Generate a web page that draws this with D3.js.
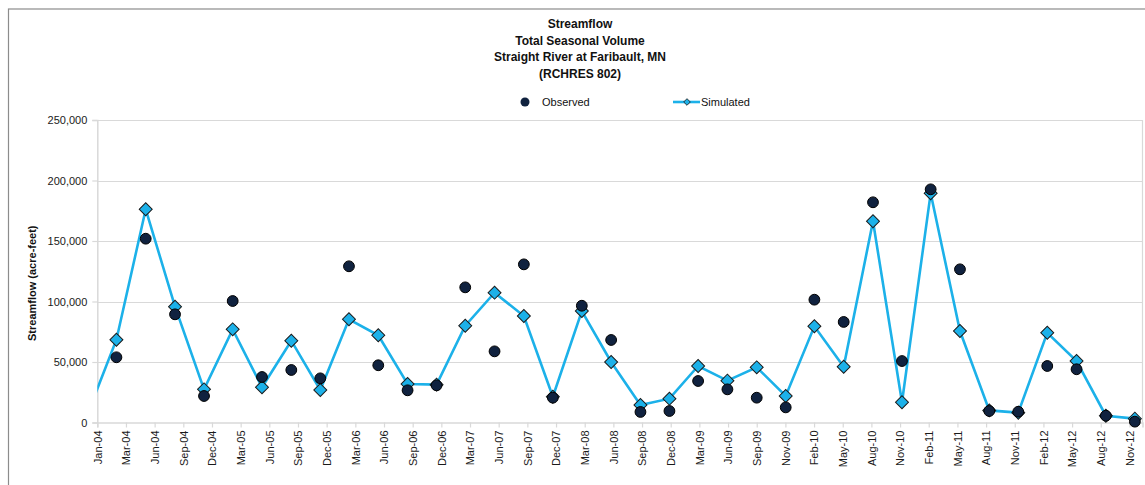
<!DOCTYPE html>
<html>
<head>
<meta charset="utf-8">
<script src="https://cdn.jsdelivr.net/npm/d3@7"></script>
<style>
  html, body { margin: 0; padding: 0; background: #fff; }
  svg { display: block; font-family: "Liberation Sans", Arial, sans-serif; }
</style>
</head>
<body>
<svg id="chart" width="1145" height="485"></svg>
<script>
// ---- Data ----
const titleLines = ["Streamflow", "Total Seasonal Volume", "Straight River at Faribault, MN", "(RCHRES 802)"];
const seasonDates = [
  "2003-12-01","2004-03-01","2004-06-01","2004-09-01","2004-12-01",
  "2005-03-01","2005-06-01","2005-09-01","2005-12-01",
  "2006-03-01","2006-06-01","2006-09-01","2006-12-01",
  "2007-03-01","2007-06-01","2007-09-01","2007-12-01",
  "2008-03-01","2008-06-01","2008-09-01","2008-12-01",
  "2009-03-01","2009-06-01","2009-09-01","2009-12-01",
  "2010-03-01","2010-06-01","2010-09-01","2010-12-01",
  "2011-03-01","2011-06-01","2011-09-01","2011-12-01",
  "2012-03-01","2012-06-01","2012-09-01","2012-12-01"
];
const simulated = [
  6800, 68400, 176200, 95700, 27400,
  77000, 29100, 67600, 26900,
  85300, 72100, 31800, 31300,
  80000, 107300, 88000, 21300,
  92100, 50000, 14500, 19700,
  46700, 34600, 45600, 21900,
  79500, 46100, 166300, 16700,
  189400, 75600, 10000, 8100,
  74200, 50800, 5600, 3200
];
const observed = [
  null, 53900, 151900, 89400, 21900,
  100400, 37600, 43400, 36500,
  129100, 47300, 26600, 30700,
  111700, 58800, 130700, 20500,
  96500, 68200, 8700, 9500,
  34300, 27400, 20500, 12500,
  101500, 83100, 182000, 50800,
  192700, 126600, 9500, 8900,
  46700, 44000, 5600, 700
];
const tickLabels = [
  "Jan-04","Mar-04","Jun-04","Sep-04","Dec-04","Mar-05","Jun-05","Sep-05","Dec-05",
  "Mar-06","Jun-06","Sep-06","Dec-06","Mar-07","Jun-07","Sep-07","Dec-07",
  "Mar-08","Jun-08","Sep-08","Dec-08","Mar-09","Jun-09","Sep-09","Nov-09",
  "Feb-10","May-10","Aug-10","Nov-10","Feb-11","May-11","Aug-11","Nov-11",
  "Feb-12","May-12","Aug-12","Nov-12"
];
const yTicks = [0, 50000, 100000, 150000, 200000, 250000];
const axisStart = "2004-01-01";
const axisEnd = "2012-12-25";
const tickStepDays = 90;

// ---- Layout ----
const svg = d3.select("#chart");
const pLeft = 97.3, pRight = 1142.5, pTop = 120, pBottom = 422.5;
const parse = d3.utcParse("%Y-%m-%d");
const start = parse(axisStart);

const x = d3.scaleUtc().domain([start, parse(axisEnd)]).range([pLeft, pRight]);
const y = d3.scaleLinear().domain([0, 250000]).range([pBottom, pTop]);

const tickDates = tickLabels.map((_, i) => d3.utcDay.offset(start, tickStepDays * i));

const rows = seasonDates.map((d, i) => ({ date: parse(d), sim: simulated[i], obs: observed[i] }));

// Outer chart border
svg.append("rect").attr("x", 8.5).attr("y", 9).attr("width", 1150).attr("height", 500)
  .attr("fill", "none").attr("stroke", "#8c8c8c").attr("stroke-width", 1.2);

// Gridlines
svg.append("g").selectAll("line").data(yTicks.filter(v => v > 0)).join("line")
  .attr("x1", pLeft).attr("x2", pRight)
  .attr("y1", d => Math.round(y(d)) + 0.5).attr("y2", d => Math.round(y(d)) + 0.5)
  .attr("stroke", "#d9d9d9").attr("stroke-width", 1.2);

// plot right border
svg.append("line").attr("x1", pRight).attr("x2", pRight).attr("y1", pTop).attr("y2", pBottom)
  .attr("stroke", "#d9d9d9").attr("stroke-width", 1.2);

// Y axis
const yAxis = svg.append("g").attr("transform", `translate(${pLeft},0)`)
  .call(d3.axisLeft(y).tickValues(yTicks).tickFormat(d3.format(",")).tickSizeOuter(0).tickSize(5).tickPadding(5));
yAxis.select(".domain").attr("stroke", "#d9d9d9").attr("stroke-width", 1.5);
yAxis.selectAll(".tick line").attr("stroke", "#d9d9d9").attr("stroke-width", 1.2);
yAxis.selectAll("text").attr("font-size", 11).attr("fill", "#1a1a1a")
  .attr("font-family", "'Liberation Sans', Arial, sans-serif");

// X axis
const xAxis = svg.append("g").attr("transform", `translate(0,${pBottom})`)
  .call(d3.axisBottom(x).tickValues(tickDates).tickFormat((d, i) => tickLabels[i]).tickSizeOuter(0).tickSize(5));
xAxis.select(".domain").attr("stroke", "#d9d9d9").attr("stroke-width", 1.5);
xAxis.selectAll(".tick line").attr("stroke", "#d9d9d9").attr("stroke-width", 1.2);
xAxis.selectAll("text")
  .attr("font-size", 11).attr("fill", "#1a1a1a")
  .attr("font-family", "'Liberation Sans', Arial, sans-serif")
  .attr("transform", "rotate(-90)")
  .attr("text-anchor", "end")
  .attr("x", -8).attr("y", 0).attr("dy", "0.35em");

// Clip
svg.append("clipPath").attr("id", "plotclip").append("rect")
  .attr("x", pLeft).attr("y", pTop - 10).attr("width", pRight - pLeft + 10).attr("height", pBottom - pTop + 20);

const plot = svg.append("g").attr("clip-path", "url(#plotclip)");

const lineColor = "#1cb1e9";
const line = d3.line().x(d => x(d.date)).y(d => y(d.sim));
plot.append("path").datum(rows).attr("d", line)
  .attr("fill", "none").attr("stroke", lineColor).attr("stroke-width", 2.6);

const diamond = d3.symbol().type(d3.symbolSquare).size(84);
plot.selectAll("path.sim").data(rows.filter(d => x(d.date) >= pLeft)).join("path")
  .attr("class", "sim")
  .attr("d", diamond)
  .attr("transform", d => `translate(${x(d.date)},${y(d.sim)}) rotate(45)`)
  .attr("fill", lineColor).attr("stroke", "#1b1b1b").attr("stroke-width", 1);

plot.selectAll("circle.obs").data(rows.filter(d => d.obs != null)).join("circle")
  .attr("class", "obs")
  .attr("cx", d => x(d.date)).attr("cy", d => y(d.obs)).attr("r", 5.4)
  .attr("fill", "#10223f").attr("stroke", "#000").attr("stroke-width", 1);

// Title
svg.append("g").selectAll("text").data(titleLines).join("text")
  .attr("x", 580).attr("y", (d, i) => 28 + i * 16.5)
  .attr("text-anchor", "middle").attr("font-size", 12).attr("font-weight", "bold").attr("fill", "#111")
  .text(d => d);

// Y axis title
svg.append("text")
  .attr("transform", `translate(36,${(pTop + pBottom) / 2 + 12}) rotate(-90)`)
  .attr("text-anchor", "middle").attr("font-size", 11).attr("font-weight", "bold").attr("fill", "#111")
  .text("Streamflow (acre-feet)");

// Legend
const lg = svg.append("g");
lg.append("circle").attr("cx", 525).attr("cy", 102).attr("r", 4.5).attr("fill", "#10223f");
lg.append("text").attr("x", 542).attr("y", 106).attr("font-size", 11).attr("fill", "#111").text("Observed");
lg.append("line").attr("x1", 673).attr("x2", 700).attr("y1", 102).attr("y2", 102)
  .attr("stroke", lineColor).attr("stroke-width", 2.6);
lg.append("path").attr("d", d3.symbol().type(d3.symbolSquare).size(22))
  .attr("transform", "translate(687,102) rotate(45)").attr("fill", lineColor).attr("stroke", "#1b1b1b").attr("stroke-width", 0.8);
lg.append("text").attr("x", 701).attr("y", 106).attr("font-size", 11).attr("fill", "#111").text("Simulated");
</script>
</body>
</html>
